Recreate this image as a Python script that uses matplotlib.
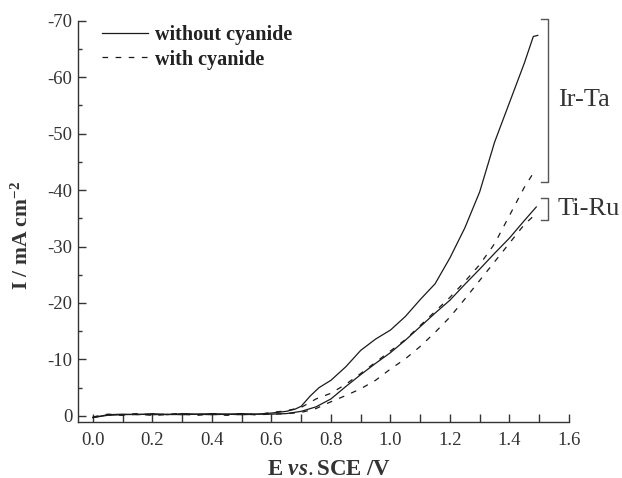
import matplotlib
matplotlib.use("Agg")
import matplotlib.pyplot as plt
from matplotlib.ticker import MultipleLocator, FixedLocator
from matplotlib.lines import Line2D

plt.rcParams['font.family'] = ['Liberation Serif', 'DejaVu Serif']
plt.rcParams['mathtext.fontset'] = 'custom'
plt.rcParams['mathtext.rm'] = 'Liberation Serif'
plt.rcParams['mathtext.bf'] = 'Liberation Serif:bold'
plt.rcParams['mathtext.it'] = 'Liberation Serif:italic:bold'

# ---- data (E in V vs SCE, I in mA cm^-2) ----
base_E = [0.0, 0.05, 0.1, 0.15, 0.2, 0.25, 0.3, 0.35, 0.4, 0.45, 0.5, 0.55, 0.6]

irta_E = base_E + [0.65, 0.68, 0.7, 0.73, 0.76, 0.8, 0.85, 0.9, 0.95, 1.0, 1.05,
                   1.1, 1.15, 1.2, 1.25, 1.3, 1.35, 1.4, 1.45, 1.48, 1.495]
irta_without = [0.3, -0.2, -0.3, -0.2, -0.4, -0.2, -0.4, -0.3, -0.4, -0.3, -0.4, -0.3, -0.5,
                -0.8, -1.2, -1.7, -3.5, -5.0, -6.3, -8.7, -11.6, -13.6, -15.2, -17.6,
                -20.6, -23.4, -28.0, -33.3, -39.7, -48.5, -55.5, -62.5, -67.2, -67.4]

irta_E2 = base_E + [0.65, 0.7, 0.75, 0.8, 0.85, 0.9, 0.95, 1.0, 1.05, 1.1, 1.15, 1.2,
                    1.25, 1.3, 1.35, 1.4, 1.45, 1.48]
irta_with = [0.2, -0.3, -0.2, -0.4, -0.2, -0.3, -0.4, -0.2, -0.4, -0.2, -0.4, -0.2, -0.6,
             -0.9, -1.5, -3.0, -4.0, -5.6, -7.5, -9.5, -11.5, -13.5, -16.0, -18.5, -21.0,
             -23.8, -26.8, -30.5, -35.5, -40.5, -43.0]

tiru_E = base_E + [0.65, 0.7, 0.75, 0.8, 0.85, 0.9, 0.95, 1.0, 1.05, 1.1, 1.15, 1.2,
                   1.25, 1.3, 1.35, 1.4, 1.45, 1.49]
tiru_without = [0.3, -0.1, -0.2, -0.3, -0.2, -0.3, -0.2, -0.3, -0.2, -0.3, -0.2, -0.3, -0.3,
                -0.4, -0.8, -1.6, -3.0, -5.2, -7.3, -9.3, -11.2, -13.4, -15.8, -18.2, -20.5,
                -23.3, -26.0, -28.8, -31.5, -34.6, -37.0]

tiru_E2 = base_E + [0.65, 0.7, 0.75, 0.8, 0.85, 0.9, 0.95, 1.0, 1.05, 1.1, 1.15, 1.2,
                    1.25, 1.3, 1.35, 1.4, 1.45, 1.485]
tiru_with = [0.2, -0.2, -0.1, -0.3, -0.1, -0.2, -0.3, -0.1, -0.3, -0.1, -0.3, -0.2, -0.3,
             -0.4, -0.6, -1.3, -2.5, -3.6, -4.8, -6.3, -8.3, -10.1, -12.3, -14.8, -17.5,
             -20.7, -24.0, -27.3, -30.6, -33.9, -35.6]

legend_labels = ['without cyanide', 'with cyanide']
group_labels = ['Ir-Ta', 'Ti-Ru']
x_ticks = [0.0, 0.2, 0.4, 0.6, 0.8, 1.0, 1.2, 1.4, 1.6]
y_ticks = [0, -10, -20, -30, -40, -50, -60, -70]

# ---- figure ----
fig = plt.figure(figsize=(6.22, 4.78), dpi=100)
ax = fig.add_axes([0.1254, 0.117, 0.7894, 0.8397])

lc = '#1a1a1a'
lw = 0.9
dash = (0, (4.5, 6.0))
ax.plot(irta_E, irta_without, color=lc, lw=lw)
ax.plot(tiru_E, tiru_without, color=lc, lw=lw)
ax.plot(irta_E2, irta_with, color=lc, lw=lw, linestyle=dash)
ax.plot(tiru_E2, tiru_with, color=lc, lw=lw, linestyle=dash)

ax.set_xlim(-0.05, 1.6)
ax.set_ylim(1.1, -70)

for s in ['top', 'right']:
    ax.spines[s].set_visible(False)
for s in ['left', 'bottom']:
    ax.spines[s].set_linewidth(1.0)
    ax.spines[s].set_color('#333333')

ax.xaxis.set_major_locator(FixedLocator(x_ticks))
ax.xaxis.set_minor_locator(MultipleLocator(0.1))
ax.yaxis.set_major_locator(FixedLocator(y_ticks))
ax.yaxis.set_minor_locator(MultipleLocator(5))
ax.set_xticklabels(['%.1f' % v for v in x_ticks])
ax.set_yticklabels(['%d' % v for v in y_ticks])
ax.tick_params(axis='x', which='both', direction='in', length=6, width=1.0,
               color='#333333', labelsize=13.5, labelcolor='#333333', pad=7)
ax.tick_params(axis='y', which='major', direction='in', length=6, width=1.0,
               color='#333333', labelsize=13.5, labelcolor='#333333', pad=4)
ax.tick_params(axis='y', which='minor', direction='in', length=3, width=1.0,
               color='#333333')

ax.set_xlabel(r'E $\mathit{vs.}$SCE /V', fontsize=16.5, fontweight='bold', color='#333333')
ax.set_ylabel(r'I / mA cm$^{\mathbf{-2}}$', fontsize=15.5, fontweight='bold', color='#333333')
ax.xaxis.label.set_va('center')
ax.xaxis.label.set_ha('center')
ax.xaxis.set_label_coords(0.512, -0.117)
ax.yaxis.label.set_va('center')
ax.yaxis.label.set_ha('center')
ax.yaxis.set_label_coords(-0.114, 0.464)

handles = [Line2D([], [], color=lc, lw=lw),
           Line2D([], [], color=lc, lw=lw, linestyle=dash)]
ax.legend(handles, legend_labels, loc='upper left', bbox_to_anchor=(0.049, 0.99),
          frameon=False, handlelength=2.3, handletextpad=0.35, labelspacing=0.24,
          borderpad=0, borderaxespad=0,
          prop={'weight': 'bold', 'size': 14.5}, labelcolor='#222222')

# brackets
bc = '#555555'
bx, tx = 1.528, 1.505
for (y0, y1), lab in zip([(-70.3, -41.5), (-38.6, -34.7)], group_labels):
    ax.plot([tx, bx, bx, tx], [y0, y0, y1, y1], color=bc, lw=1.0, clip_on=False)
    ax.text(1.563, (y0 + y1) / 2, lab, fontsize=19, color='#333333', va='center', ha='left',
            clip_on=False)

fig.savefig('out.png', dpi=100)
